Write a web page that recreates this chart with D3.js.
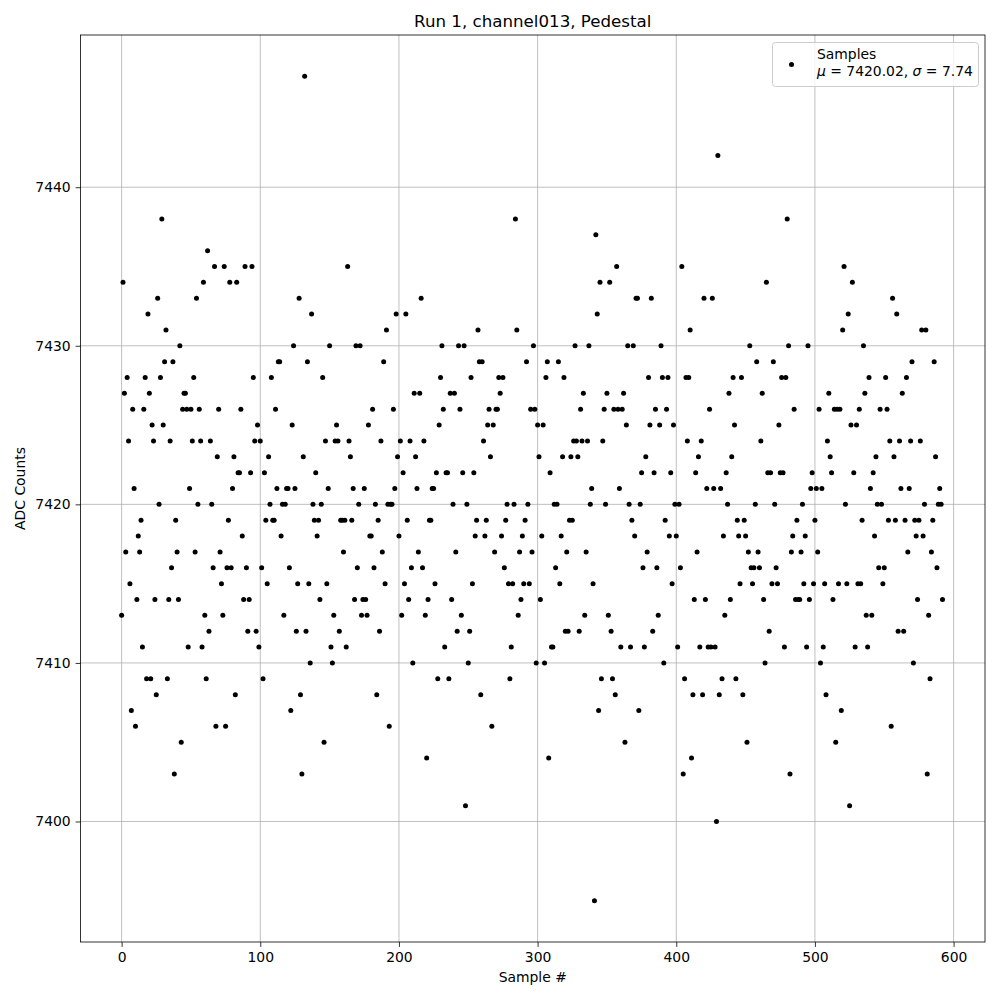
<!DOCTYPE html>
<html>
<head>
<meta charset="utf-8">
<script src="https://cdn.jsdelivr.net/npm/d3@7"></script>
<style>
  body { margin: 0; background: #fff; }
  svg text { font-family: "DejaVu Sans", sans-serif; fill: #000; }
</style>
</head>
<body>
<svg id="chart" width="1000" height="1000"></svg>
<script>
// ADC counts per sample in order of sample number
const adcPart1 = [7413,7434,7427,7417,7428,7424,7415,7407,7426,7421,7406,7414,7418,7417,7419,7411,7426,7428,7409,7432,
  7427,7409,7425,7424,7414,7408,7433,7420,7428,7438,7425,7429,7431,7409,7414,7424,7416,7429,7403,
  7419,7417,7414,7430,7405,7426,7427,7427,7426,7411,7421,7426,7424,7428,7417,7433,7420,7426,7424,7411,
  7434,7413,7409,7436,7412,7424,7420,7416,7435,7406,7423,7426,7417,7415,7413,7435,7406,7416,7419,7434,
  7416,7421,7423,7408,7434,7422,7422,7426,7418,7414,7435,7416,7412,7414];
const adcPart2 = [7422,7435,7428,7424,7412,7425,7411,7424,7416,7409,7422,7419,7415,7423,7420,7428,7419,7419,7426,7421,
  7429,7429,7418,7420,7413,7420,7421,7421,7416,7407,7425,7430,7421,7412,7415,7433,7408,7403,7423,7447,
  7412,7429,7415,7410,7432,7420,7419,7422,7418,7419,7414,7420,7428,7405,
  7424,7415,7421,7430,7411,7410,7413,7424,7425,7424,7412,7419,7419,7417,7419,7411,7435,7424,7423,7419,
  7421,7414,7430,7416,7420,7430,7413,7414,7421,7414,7413,7425,7418,7418,7426,7416,7420,7408,7419,7412,
  7424,7417,7429,7415,7431,7420,7406,7420,7420,7426,7421,7432,7423,7418];
const adcPart3 = [7424,7413,7422,7415,7432,7419,7414,7424,7416,7410,7427,7423,7421,7417,7427,7433,7416,7424,7413,7404,
  7414,7419,7419,7421,7421,7415,7422,7409,7425,7428,7430,7426,7411,7422,7422,7409,7427,7414,7420,7427,
  7417,7412,7430,7426,7413,7422,7430,7401,7420,7410,7412,7428,7415,7422,
  7418,7419,7431,7429,7408,7429,7424,7418,7419,7425,7426,7423,7406,7425,7417,7426,7426,7428,7427,7418,
  7428,7416,7419,7420,7415,7409,7411,7415,7420,7438,7431,7413,7417,7414,7418,7415,7419,7429,7420,7415,
  7426,7417,7430,7426,7410,7425,7423,7414,7418,7425,7410,7428,7429,7404];
const adcPart4 = [7422,7411,7411,7420,7416,7420,7429,7415,7418,7423,7428,7412,7417,7412,7419,7423,7419,7424,7430,7424,
  7423,7412,7426,7424,7427,7413,7417,7424,7430,7420,7421,7415,7395,7437,7432,7407,7434,7409,7424,7426,
  7420,7427,7413,7434,7412,7409,7426,7408,7435,7426,7421,7411,7426,7427,
  7405,7425,7430,7420,7411,7419,7430,7418,7433,7433,7407,7420,7422,7416,7411,7423,7417,7428,7425,7433,
  7412,7422,7426,7416,7413,7425,7430,7428,7410,7419,7426,7428,7418,7422,7415,7425,7420,7418,7411,7420,
  7416,7435,7403,7409,7428,7424,7428,7431,7404,7408,7414,7422,7417,7423];
const adcPart5 = [7411,7424,7408,7433,7414,7421,7411,7426,7411,7433,7421,7411,7400,7442,7408,7421,7409,7418,7413,7422,
  7420,7427,7414,7423,7428,7425,7409,7419,7418,7415,7428,7408,7419,7418,7405,7417,7430,7416,7415,7416,
  7420,7429,7417,7416,7424,7427,7414,7410,7434,7422,7412,7422,7415,
  7429,7420,7416,7415,7425,7422,7428,7422,7411,7428,7438,7430,7403,7417,7418,7426,7414,7419,7414,7414,
  7417,7420,7415,7418,7411,7430,7414,7421,7422,7415,7419,7421,7417,7426,7410,7421,7411,7415,7408,7424,
  7427,7423,7422,7414,7426,7405,7426,7415,7426,7407,7431,7435,7420,7415,7432,7401];
const adcPart6 = [7425,7434,7422,7411,7425,7415,7426,7415,7419,7430,7427,7413,7411,7428,7421,7413,7422,7418,7423,7420,
  7416,7426,7420,7415,7416,7428,7426,7419,7424,7406,7433,7423,7419,7432,7412,7424,7421,7427,7412,7419,
  7428,7417,7421,7424,7429,7410,7419,7418,7414,7419,7424,7431,7418,
  7420,7431,7403,7413,7409,7417,7419,7429,7423,7416,7420,7421,7420,7414];

const adcCounts = [].concat(adcPart1, adcPart2, adcPart3, adcPart4, adcPart5, adcPart6);

const xTicks = [0, 100, 200, 300, 400, 500, 600];
const yTicks = [7400, 7410, 7420, 7430, 7440];
const xDomain = [-29.65, 622.65];
const yDomain = [7392.4, 7449.6];

const titleText = 'Run 1, channel013, Pedestal';
const xLabel = 'Sample #';
const yLabel = 'ADC Counts';
const legendName = 'Samples';
const legendMu = '7420.02';
const legendSigma = '7.74';

const margin = { top: 35, right: 15, bottom: 58, left: 80.5 };
const outerWidth = 1000;
const outerHeight = 1000;
const width = outerWidth - margin.left - margin.right;
const height = outerHeight - margin.top - margin.bottom;
const dotRadius = 2.5;

const svg = d3.select('#chart');

const group = svg
  .append('g')
  .attr('transform', 'translate(' + margin.left + ',' + margin.top + ')');

const xScale = d3.scaleLinear().domain(xDomain).range([0, width]);
const yScale = d3.scaleLinear().domain(yDomain).range([height, 0]);

// grid first so it sits under the dots
group.append('g')
  .selectAll('line')
  .data(xTicks)
  .enter()
  .append('line')
  .attr('x1', d => xScale(d))
  .attr('x2', d => xScale(d))
  .attr('y1', 0)
  .attr('y2', height)
  .attr('stroke', '#b0b0b0')
  .attr('stroke-width', 0.8);

group.append('g')
  .selectAll('line')
  .data(yTicks)
  .enter()
  .append('line')
  .attr('x1', 0)
  .attr('x2', width)
  .attr('y1', d => yScale(d))
  .attr('y2', d => yScale(d))
  .attr('stroke', '#b0b0b0')
  .attr('stroke-width', 0.8);

group.append('g')
  .selectAll('.dot')
  .data(adcCounts)
  .enter()
  .append('circle')
  .classed('dot', true)
  .attr('cx', (d, i) => xScale(i))
  .attr('cy', d => yScale(d))
  .attr('r', dotRadius)
  .attr('fill', '#000');

// axes
const xAxis = d3.axisBottom(xScale).tickValues(xTicks).tickSize(4.9).tickPadding(4.9).tickFormat(d3.format('d'));
const yAxis = d3.axisLeft(yScale).tickValues(yTicks).tickSize(4.9).tickPadding(4.9).tickFormat(d3.format('d'));

const gX = group.append('g')
  .attr('transform', 'translate(0,' + height + ')')
  .call(xAxis);
const gY = group.append('g').call(yAxis);

[gX, gY].forEach(g => {
  g.select('.domain').remove();
  g.selectAll('.tick line').attr('stroke', '#000').attr('stroke-width', 0.8);
  g.selectAll('.tick text')
    .style('font-family', '"DejaVu Sans", sans-serif')
    .style('font-size', '13.9px')
    .attr('fill', '#000');
});

group.append('rect')
  .attr('width', width)
  .attr('height', height)
  .attr('fill', 'none')
  .attr('stroke', '#000')
  .attr('stroke-width', 0.8);

// labels
svg.append('text')
  .attr('x', margin.left + width / 2)
  .attr('y', margin.top - 8.3)
  .attr('text-anchor', 'middle')
  .style('font-size', '16.67px')
  .text(titleText);

svg.append('text')
  .attr('x', margin.left + width / 2)
  .attr('y', 982)
  .attr('text-anchor', 'middle')
  .style('font-size', '13.9px')
  .text(xLabel);

svg.append('text')
  .attr('transform', 'translate(25,' + (margin.top + height / 2) + ') rotate(-90)')
  .attr('text-anchor', 'middle')
  .style('font-size', '13.9px')
  .text(yLabel);

// Legend
const legend = svg.append('g').attr('transform', 'translate(772.5,42.5)');

legend.append('rect')
  .attr('width', 206)
  .attr('height', 44)
  .attr('rx', 3)
  .attr('fill', '#fff')
  .attr('fill-opacity', 0.8)
  .attr('stroke', '#cccccc')
  .attr('stroke-width', 1);

legend.append('circle')
  .attr('cx', 19)
  .attr('cy', 22)
  .attr('r', dotRadius)
  .attr('fill', '#000');

legend.append('text')
  .attr('x', 44.5)
  .attr('y', 16)
  .style('font-size', '13.9px')
  .text(legendName);

const stats = legend.append('text')
  .attr('x', 44.5)
  .attr('y', 33)
  .style('font-size', '13.9px');
stats.append('tspan').style('font-style', 'italic').text('\u03bc');
stats.append('tspan').text(' = ' + legendMu + ', ');
stats.append('tspan').style('font-style', 'italic').text('\u03c3');
stats.append('tspan').text(' = ' + legendSigma);
</script>
</body>
</html>
